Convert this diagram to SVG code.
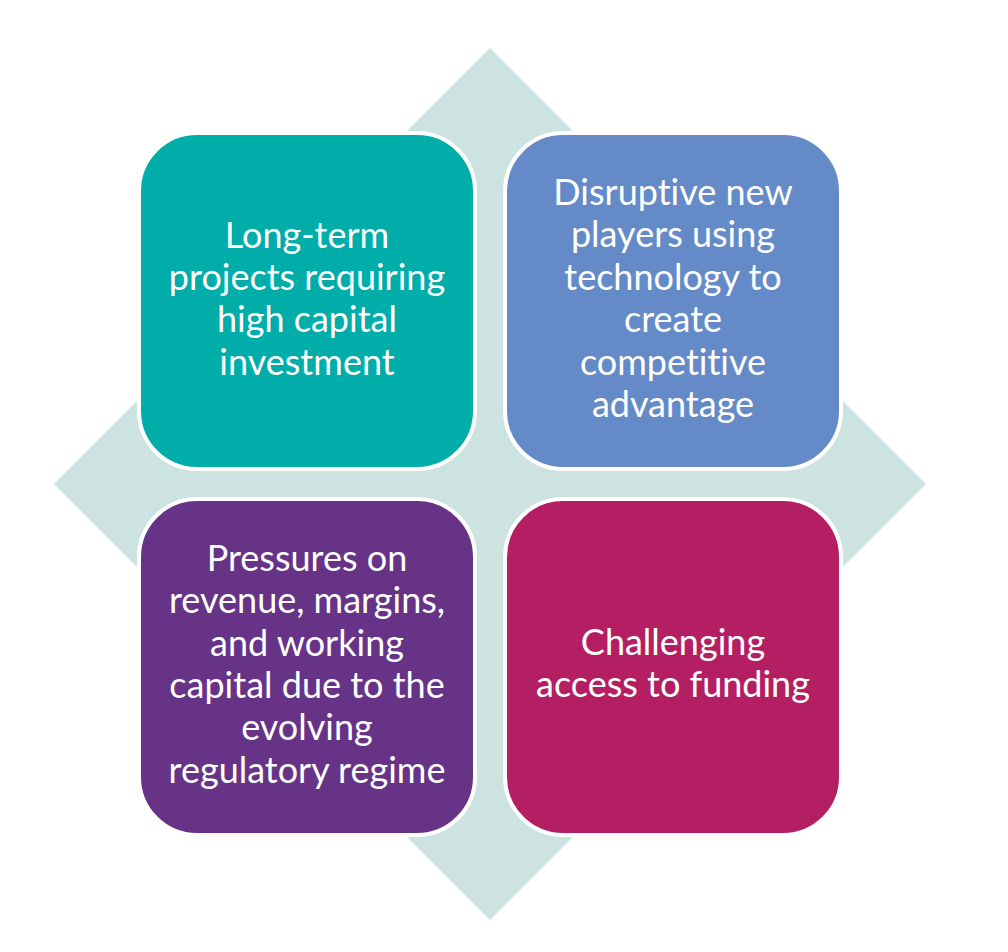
<svg xmlns="http://www.w3.org/2000/svg" width="1008" height="952" viewBox="0 0 1008 952">
<style>
.box{stroke:#fff;stroke-width:4}
.t{font-family:Lato,"Liberation Sans",sans-serif;font-size:36px;fill:#fff;text-anchor:middle;font-variant-ligatures:none}
</style>
<rect width="1008" height="952" fill="#fff"/>
<g id="diamond"><polygon points="490,48 926,484 490,920 54,484" fill="#CCE3E1"/></g>
<g id="connectors"></g>
<g id="node-tl">
<rect class="box" x="139" y="133" width="336" height="336" rx="58" fill="#00ADA8"/>
<text class="t"><tspan x="307" y="248">Long-term</tspan><tspan x="307" y="290">projects requiring</tspan><tspan x="307" y="332">high capital</tspan><tspan x="307" y="375">investment</tspan></text>
</g>
<g id="node-tr">
<rect class="box" x="505" y="133" width="336" height="336" rx="58" fill="#648BC8"/>
<text class="t"><tspan x="673" y="205">Disruptive new</tspan><tspan x="673" y="247">players using</tspan><tspan x="673" y="290">technology to</tspan><tspan x="673" y="332">create</tspan><tspan x="673" y="375">competitive</tspan><tspan x="673" y="417">advantage</tspan></text>
</g>
<g id="node-bl">
<rect class="box" x="139" y="499" width="336" height="336" rx="58" fill="#663387"/>
<text class="t"><tspan x="307" y="571">Pressures on</tspan><tspan x="307" y="613">revenue, margins,</tspan><tspan x="307" y="656">and working</tspan><tspan x="307" y="698">capital due to the</tspan><tspan x="307" y="740">evolving</tspan><tspan x="307" y="783">regulatory regime</tspan></text>
</g>
<g id="node-br">
<rect class="box" x="505" y="499" width="336" height="336" rx="58" fill="#B41F64"/>
<text class="t"><tspan x="673" y="655">Challenging</tspan><tspan x="673" y="697">access to funding</tspan></text>
</g>
</svg>
